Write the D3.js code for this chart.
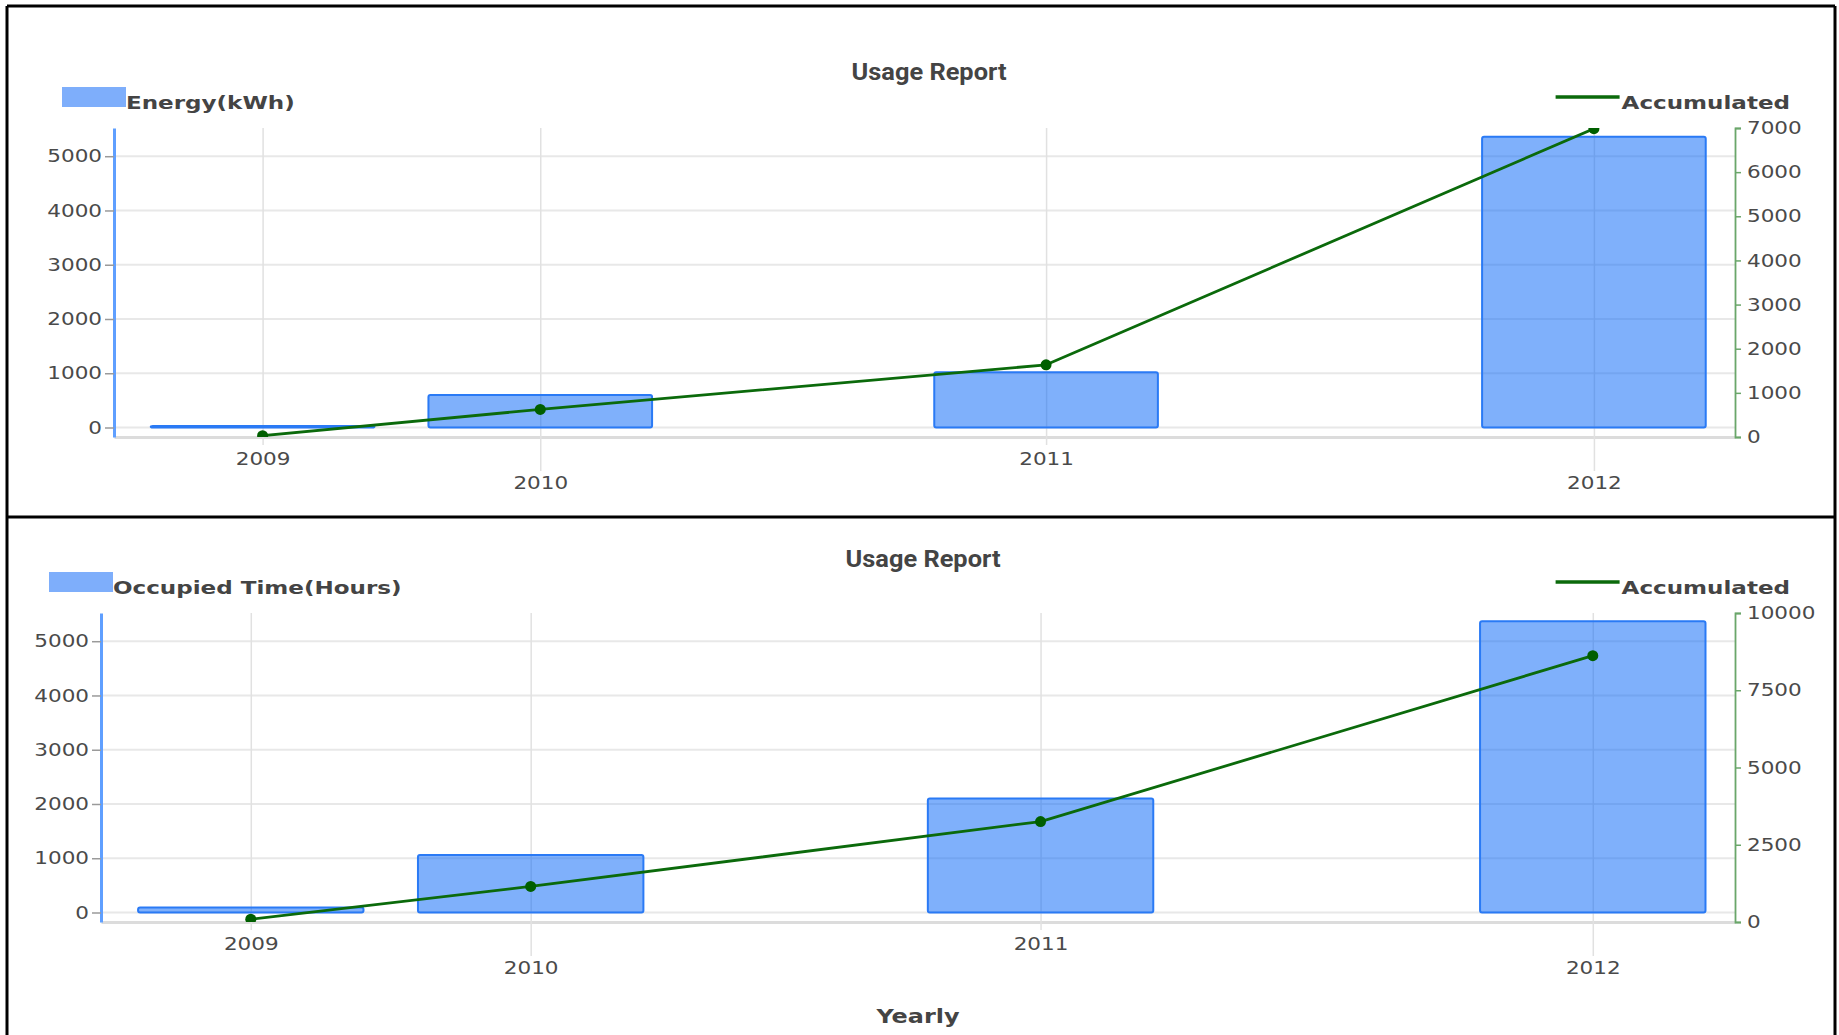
<!DOCTYPE html>
<html>
<head>
<meta charset="utf-8">
<script src="https://cdn.jsdelivr.net/npm/d3@7"></script>
<style>
  body { margin: 0; background: #fff; }
</style>
</head>
<body>
<div id="chart"></div>
<script>
// values
var years = ["2009", "2010", "2011", "2012"];
var periodDates = ["2009-12-31", "2010-07-04", "2011-06-06", "2012-06-05"];
var xRange = ["2009-09-23", "2012-09-07"];

var energyKwh = [30, 600, 1020, 5360];
var energyAccum = [30, 625, 1635, 6985];
var occupiedHours = [90, 1060, 2100, 5370];
var occupiedAccum = [90, 1150, 3250, 8620];

var leftTicks = [0, 1000, 2000, 3000, 4000, 5000];
var energyRightTicks = [0, 1000, 2000, 3000, 4000, 5000, 6000, 7000];
var occupiedRightTicks = [0, 2500, 5000, 7500, 10000];

var SX = 1.23;      // the report's font is wider than DejaVu
var SXB = 1.28;     // same for the bold labels
var parseDate = d3.timeParse("%Y-%m-%d");
var fmt = d3.format("d");

var svg = d3.select("#chart").append("svg")
    .attr("width", 1839)
    .attr("height", 1035);

function stretched(g, x, y, txt, sx) {
    return g.append("text")
        .attr("transform", `translate(${x},${y}) scale(${sx},1)`)
        .text(txt);
}

function tickStyle(sel) {
    sel.attr("fill", "#4a4a4a")
        .style("font-family", "DejaVu Sans")
        .style("font-size", "17.5px");
}

function drawPanel(cfg, idx) {
    var g = svg.append("g");
    var dates = periodDates.map(parseDate);

    var x = d3.scaleTime()
        .domain(xRange.map(parseDate))
        .range([cfg.left, cfg.right]);
    var yL = d3.scaleLinear().domain([-175, 5520]).range([cfg.bottom, cfg.top]);
    var yR = d3.scaleLinear().domain([0, d3.max(cfg.rightTicks)]).range([cfg.bottom, cfg.top]);

    // horizontal grid
    g.append("g").selectAll("line")
        .data(leftTicks)
        .join("line")
        .attr("x1", cfg.left).attr("x2", cfg.right)
        .attr("y1", d => yL(d)).attr("y2", d => yL(d))
        .attr("stroke", "#e8e8e8")
        .attr("stroke-width", 2);

    // x axis + vertical grid
    var xa = g.append("g")
        .attr("transform", `translate(0,${cfg.bottom})`)
        .call(d3.axisBottom(x).tickValues(dates).tickFormat((d, i) => years[i]).tickSizeOuter(0));
    xa.select(".domain").attr("stroke", "#dcdcdc").attr("stroke-width", 3);
    xa.selectAll(".tick line")
        .attr("y1", -(cfg.bottom - cfg.top))
        .attr("y2", (d, i) => i % 2 ? 34 : 8)
        .attr("stroke", "#e1e1e1")
        .attr("stroke-width", 1.5);
    xa.selectAll(".tick text")
        .attr("y", (d, i) => i % 2 ? 52 : 28.5)
        .attr("dy", 0)
        .attr("transform", `scale(${SX},1)`)
        .call(tickStyle);

    // bars
    var bw = x(d3.timeDay.offset(dates[0], 149)) - x(dates[0]);
    g.append("g").selectAll("rect")
        .data(cfg.bars)
        .join("rect")
        .attr("x", (d, i) => x(dates[i]) - bw / 2)
        .attr("y", d => yL(d))
        .attr("width", bw)
        .attr("height", d => yL(0) - yL(d))
        .attr("rx", 2)
        .attr("fill", "#0062f7")
        .attr("fill-opacity", 0.5)
        .attr("stroke", "#2a7af5")
        .attr("stroke-width", 2);

    // accumulated line, clipped to the plot
    var clipId = "clip" + idx;
    g.append("clipPath").attr("id", clipId)
        .append("rect")
        .attr("x", cfg.left).attr("y", cfg.top)
        .attr("width", cfg.right - cfg.left)
        .attr("height", cfg.bottom - cfg.top);

    var line = d3.line()
        .x((d, i) => x(dates[i]))
        .y(d => yR(d));

    var lg = g.append("g").attr("clip-path", `url(#${clipId})`);
    lg.append("path")
        .attr("d", line(cfg.accum))
        .attr("fill", "none")
        .attr("stroke", "#0b6a0b")
        .attr("stroke-width", 2.8)
        .attr("stroke-linejoin", "round");
    lg.selectAll("circle")
        .data(cfg.accum)
        .join("circle")
        .attr("cx", (d, i) => x(dates[i]))
        .attr("cy", d => yR(d))
        .attr("r", 5.5)
        .attr("fill", "#005f00");

    // left axis
    var la = g.append("g")
        .attr("transform", `translate(${cfg.left},0)`)
        .call(d3.axisLeft(yL).tickValues(leftTicks).tickFormat(fmt).tickSize(9).tickSizeOuter(0));
    la.select(".domain").attr("stroke", "#5f9fff").attr("stroke-width", 3);
    la.selectAll(".tick line").attr("stroke", "#9a9a9a").attr("stroke-width", 1.5);
    la.selectAll(".tick text")
        .attr("x", -12 / SX)
        .attr("transform", `scale(${SX},1)`)
        .call(tickStyle);

    // right axis
    var ra = g.append("g")
        .attr("transform", `translate(${cfg.right},0)`)
        .call(d3.axisRight(yR).tickValues(cfg.rightTicks).tickFormat(fmt).tickSize(6).tickSizeOuter(6));
    ra.select(".domain").attr("stroke", "#6aa66a").attr("stroke-width", 1.8);
    ra.selectAll(".tick line").attr("stroke", "#6aa66a").attr("stroke-width", 1.5);
    ra.selectAll(".tick text")
        .attr("x", 12 / SX)
        .attr("transform", `scale(${SX},1)`)
        .call(tickStyle);

    // title
    var t = g.append("text")
        .attr("text-anchor", "middle")
        .attr("fill", "#444")
        .style("font-family", "Roboto")
        .style("font-weight", 700)
        .style("font-size", "23px")
        .text("Usage Report");
    var tw = t.node().getComputedTextLength();
    t.attr("transform", `translate(${cfg.titleX},${cfg.titleY}) scale(${155 / tw},1)`);

    // legends
    g.append("rect")
        .attr("x", cfg.left - 52).attr("y", cfg.top - 41)
        .attr("width", 64).attr("height", 20)
        .attr("fill", "#7eaefb");
    stretched(g, cfg.left + 12, cfg.top - 19, cfg.barLabel, SXB)
        .attr("fill", "#444")
        .style("font-family", "DejaVu Sans")
        .style("font-weight", 700)
        .style("font-size", "18px");

    var acc = stretched(g, 1790, cfg.top - 19, "Accumulated", SXB)
        .attr("text-anchor", "end")
        .attr("fill", "#444")
        .style("font-family", "DejaVu Sans")
        .style("font-weight", 700)
        .style("font-size", "18px");
    var aw = acc.node().getComputedTextLength() * SXB;
    g.append("line")
        .attr("x1", 1790 - aw - 66).attr("x2", 1790 - aw - 2)
        .attr("y1", cfg.top - 31).attr("y2", cfg.top - 31)
        .attr("stroke", "#0b6a0b")
        .attr("stroke-width", 3.5);
}

drawPanel({
    bars: energyKwh, accum: energyAccum, rightTicks: energyRightTicks,
    barLabel: "Energy(kWh)",
    left: 114, right: 1735, top: 128, bottom: 437,
    titleX: 929, titleY: 80
}, 0);

drawPanel({
    bars: occupiedHours, accum: occupiedAccum, rightTicks: occupiedRightTicks,
    barLabel: "Occupied Time(Hours)",
    left: 101, right: 1735, top: 613, bottom: 922,
    titleX: 923, titleY: 567
}, 1);

stretched(svg, 918, 1023, "Yearly", 1.26)
    .attr("text-anchor", "middle")
    .attr("fill", "#444")
    .style("font-family", "DejaVu Sans")
    .style("font-weight", 700)
    .style("font-size", "19px");

// report frame
var frame = [[7, 6, 7, 1035], [1835, 6, 1835, 1035], [7, 6, 1835, 6], [7, 517, 1835, 517]];
svg.append("g").selectAll("line")
    .data(frame)
    .join("line")
    .attr("x1", d => d[0]).attr("y1", d => d[1])
    .attr("x2", d => d[2]).attr("y2", d => d[3])
    .attr("stroke", "#000")
    .attr("stroke-width", 3);
</script>
</body>
</html>
